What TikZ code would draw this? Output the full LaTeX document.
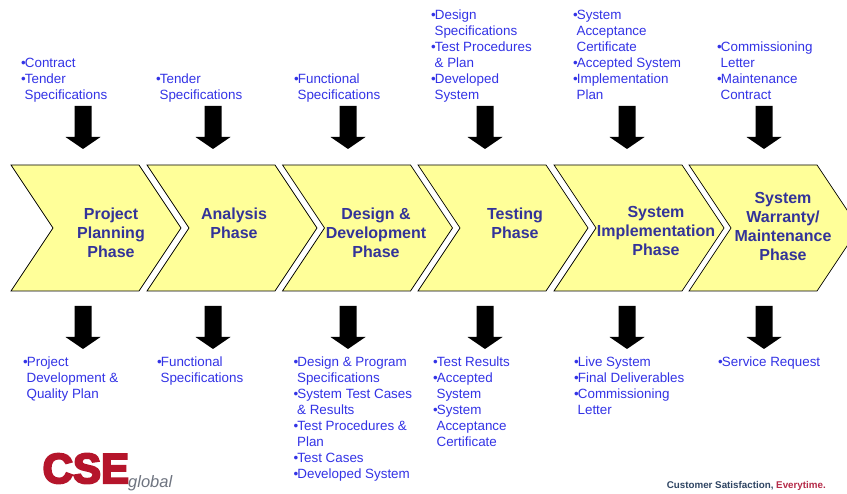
\documentclass[tikz,border=0pt]{standalone}
\usepackage{fontspec}
\setmainfont{Liberation Sans}
\newfontfamily\logofont[FakeBold=5]{Liberation Sans Bold}
\definecolor{chevfill}{HTML}{FFFF99}
\definecolor{phasetext}{HTML}{333399}
\definecolor{listtext}{HTML}{3333E6}
\definecolor{logored}{HTML}{B5152B}
\definecolor{logogrey}{HTML}{6E7480}
\definecolor{footblue}{HTML}{2F4563}
\definecolor{footred}{HTML}{B52A48}
\newcommand{\bul}{•\kern-1pt}
\newcommand{\ind}{\hspace*{3.4pt}}
\newcommand{\chevshape}[1]{%
  \draw[chev] (#1,-165) -- ++(128,0) -- ++(42,-63) -- ++(-42,-63) -- ++(-128,0) -- ++(42,63) -- cycle;}
\newcommand{\downblock}[2]{%
  \fill[black] (#1-8.5,-#2) -- (#1+8.5,-#2) -- (#1+8.5,-#2-31) -- (#1+17.5,-#2-31) -- (#1,-#2-43) -- (#1-17.5,-#2-31) -- (#1-8.5,-#2-31) -- cycle;}
\tikzset{
  chev/.style={draw=black,line width=0.7pt,fill=chevfill,line join=miter},
  phase/.style={font=\fontsize{16}{19}\selectfont\bfseries,text=phasetext,align=center,inner sep=0pt},
  item/.style={font=\fontsize{13.4}{16}\selectfont,text=listtext,align=left,inner sep=0pt,anchor=north west,text depth=0pt},
}
\begin{document}
\begin{tikzpicture}[x=1pt,y=1pt]
\useasboundingbox (0,0) rectangle (847,-494);
\fill[white] (0,0) rectangle (847,-494);
\begin{scope}
\clip (0,0) rectangle (847,-494);
\chevshape{11}\chevshape{147}\chevshape{282.5}\chevshape{418}\chevshape{554}\chevshape{689}
\end{scope}
\node[phase] (p1) at (111,-232.7) {Project\\Planning\\Phase};
\node[phase] (p2) at (234,-223.2) {Analysis\\Phase};
\node[phase] (p3) at (376,-232.7) {Design \&\\Development\\Phase};
\node[phase] (p4) at (515,-223.2) {Testing\\Phase};
\node[phase] (p5) at (656,-230.7) {System\\Implementation\\Phase};
\node[phase] (p6) at (783,-226) {System\\Warranty/\\Maintenance\\Phase};
\foreach \ax in {83,213,348,485,627,764}{\downblock{\ax}{106}\downblock{\ax}{306}}
\node[item] (t1) at (21,-58) {\bul Contract\\\bul Tender\\\ind Specifications};
\node[item] (t2) at (156,-74) {\bul Tender\\\ind Specifications};
\node[item] (t3) at (294,-74) {\bul Functional\\\ind Specifications};
\node[item] (t4) at (431,-10) {\bul Design\\\ind Specifications\\\bul Test Procedures\\\ind \& Plan\\\bul Developed\\\ind System};
\node[item] (t5) at (573,-10) {\bul System\\\ind Acceptance\\\ind Certificate\\\bul Accepted System\\\bul Implementation\\\ind Plan};
\node[item] (t6) at (717,-42) {\bul Commissioning\\\ind Letter\\\bul Maintenance\\\ind Contract};
\node[item] (b1) at (23,-357) {\bul Project\\\ind Development \&\\\ind Quality Plan};
\node[item] (b2) at (157,-357) {\bul Functional\\\ind Specifications};
\node[item] (b3) at (293.5,-357) {\bul Design \& Program\\\ind Specifications\\\bul System Test Cases\\\ind \& Results\\\bul Test Procedures \&\\\ind Plan\\\bul Test Cases\\\bul Developed System};
\node[item] (b4) at (433,-357) {\bul Test Results\\\bul Accepted\\\ind System\\\bul System\\\ind Acceptance\\\ind Certificate};
\node[item] (b5) at (574,-357) {\bul Live System\\\bul Final Deliverables\\\bul Commissioning\\\ind Letter};
\node[item] (b6) at (718,-357) {\bul Service Request};
\node[inner sep=0pt,anchor=base west,text=logored,font=\logofont\fontsize{42}{42}\selectfont] (logo) at (42.5,-483) {CSE};
\node[inner sep=0pt,anchor=base west,text=logogrey,font=\fontsize{16.5}{16.5}\selectfont\itshape] (glob) at (128,-488) {global};
\node[inner sep=0pt,anchor=base east,font=\fontsize{9.8}{10}\selectfont\bfseries,text=footblue] (foot) at (826,-489) {Customer Satisfaction, \textcolor{footred}{Everytime.}};
\end{tikzpicture}
\end{document}
